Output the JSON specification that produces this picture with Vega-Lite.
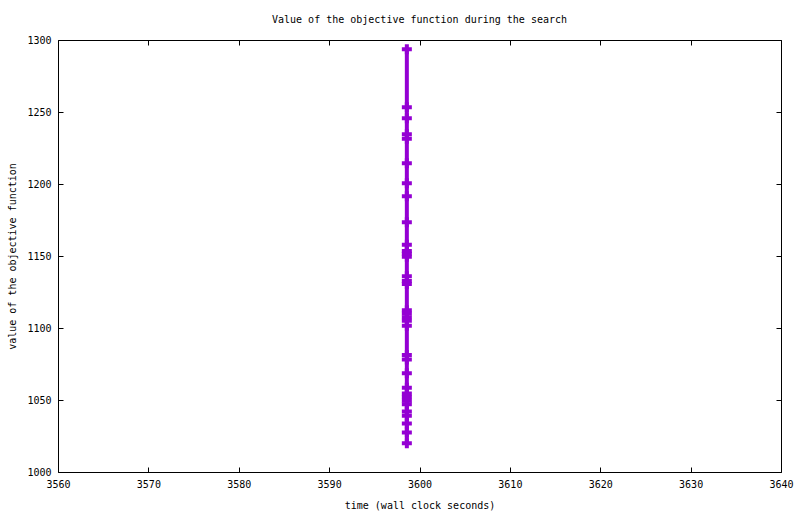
{
  "$schema": "https://vega.github.io/schema/vega-lite/v6.json",
  "autosize": {"type": "none"},
  "padding": {"left": 58, "top": 40, "right": 19, "bottom": 42},
  "width": 723,
  "height": 432,
  "background": "white",
  "title": {
    "text": "Value of the objective function during the search",
    "font": "DejaVu Sans Mono",
    "fontSize": 10,
    "fontWeight": "normal",
    "color": "black",
    "anchor": "middle",
    "offset": 10
  },
  "data": {
    "values": [
      {"step": 1, "time": 3598.6, "value": 1293.6},
      {"step": 2, "time": 3598.6, "value": 1253.3},
      {"step": 3, "time": 3598.6, "value": 1245.7},
      {"step": 4, "time": 3598.6, "value": 1234.6},
      {"step": 5, "time": 3598.6, "value": 1231.4},
      {"step": 6, "time": 3598.6, "value": 1214.4},
      {"step": 7, "time": 3598.6, "value": 1200.6},
      {"step": 8, "time": 3598.6, "value": 1191.5},
      {"step": 9, "time": 3598.6, "value": 1173.5},
      {"step": 10, "time": 3598.6, "value": 1157.8},
      {"step": 11, "time": 3598.6, "value": 1153.5},
      {"step": 12, "time": 3598.6, "value": 1151.5},
      {"step": 13, "time": 3598.6, "value": 1149.5},
      {"step": 14, "time": 3598.6, "value": 1136.0},
      {"step": 15, "time": 3598.6, "value": 1132.6},
      {"step": 16, "time": 3598.6, "value": 1130.5},
      {"step": 17, "time": 3598.6, "value": 1112.4},
      {"step": 18, "time": 3598.6, "value": 1110.0},
      {"step": 19, "time": 3598.6, "value": 1107.5},
      {"step": 20, "time": 3598.6, "value": 1105.0},
      {"step": 21, "time": 3598.6, "value": 1101.5},
      {"step": 22, "time": 3598.6, "value": 1081.3},
      {"step": 23, "time": 3598.6, "value": 1078.1},
      {"step": 24, "time": 3598.6, "value": 1068.5},
      {"step": 25, "time": 3598.6, "value": 1058.5},
      {"step": 26, "time": 3598.6, "value": 1054.5},
      {"step": 27, "time": 3598.6, "value": 1052.0},
      {"step": 28, "time": 3598.6, "value": 1049.5},
      {"step": 29, "time": 3598.6, "value": 1047.0},
      {"step": 30, "time": 3598.6, "value": 1042.0},
      {"step": 31, "time": 3598.6, "value": 1039.0},
      {"step": 32, "time": 3598.6, "value": 1033.7},
      {"step": 33, "time": 3598.6, "value": 1027.4},
      {"step": 34, "time": 3598.6, "value": 1020.0}
    ]
  },
  "layer": [
    {
      "mark": {"type": "line", "color": "#9400D3", "strokeWidth": 4, "clip": true},
      "encoding": {
        "x": {
          "field": "time",
          "type": "quantitative",
          "scale": {"domain": [3560, 3640], "nice": false, "zero": false},
          "axis": {
            "orient": "bottom",
            "values": [3560, 3570, 3580, 3590, 3600, 3610, 3620, 3630, 3640],
            "format": "d",
            "title": "time (wall clock seconds)",
            "titlePadding": 11
          }
        },
        "y": {
          "field": "value",
          "type": "quantitative",
          "scale": {"domain": [1000, 1300], "nice": false, "zero": false},
          "axis": {
            "orient": "left",
            "values": [1000, 1050, 1100, 1150, 1200, 1250, 1300],
            "format": "d",
            "title": "value of the objective function",
            "titlePadding": 9
          }
        },
        "order": {"field": "step", "type": "quantitative"}
      }
    },
    {
      "mark": {
        "type": "point",
        "shape": "M-1,-0.4H1V0.4H-1Z M-0.4,-1H0.4V1H-0.4Z",
        "filled": true,
        "size": 100,
        "color": "#9400D3",
        "opacity": 1,
        "clip": true
      },
      "encoding": {
        "x": {"field": "time", "type": "quantitative", "scale": {"domain": [3560, 3640], "nice": false, "zero": false}, "axis": null},
        "y": {"field": "value", "type": "quantitative", "scale": {"domain": [1000, 1300], "nice": false, "zero": false}, "axis": null}
      }
    },
    {
      "mark": {"type": "point", "opacity": 0},
      "encoding": {
        "x": {
          "field": "time",
          "type": "quantitative",
          "scale": {"domain": [3560, 3640], "nice": false, "zero": false},
          "axis": {
            "orient": "top",
            "values": [3560, 3570, 3580, 3590, 3600, 3610, 3620, 3630, 3640],
            "labels": false,
            "title": null
          }
        },
        "y": {
          "field": "value",
          "type": "quantitative",
          "scale": {"domain": [1000, 1300], "nice": false, "zero": false},
          "axis": {
            "orient": "right",
            "values": [1000, 1050, 1100, 1150, 1200, 1250, 1300],
            "labels": false,
            "title": null
          }
        }
      }
    }
  ],
  "resolve": {"axis": {"x": "independent", "y": "independent"}},
  "config": {
    "view": {"stroke": "black", "strokeWidth": 1},
    "axis": {
      "domain": false,
      "grid": false,
      "ticks": true,
      "tickSize": -5,
      "tickColor": "black",
      "tickWidth": 1,
      "labelFont": "DejaVu Sans Mono",
      "labelFontSize": 10,
      "labelColor": "black",
      "labelPadding": 12,
      "labelFlush": false,
      "labelOverlap": false,
      "titleFont": "DejaVu Sans Mono",
      "titleFontSize": 10,
      "titleFontWeight": "normal",
      "titleColor": "black"
    }
  }
}
